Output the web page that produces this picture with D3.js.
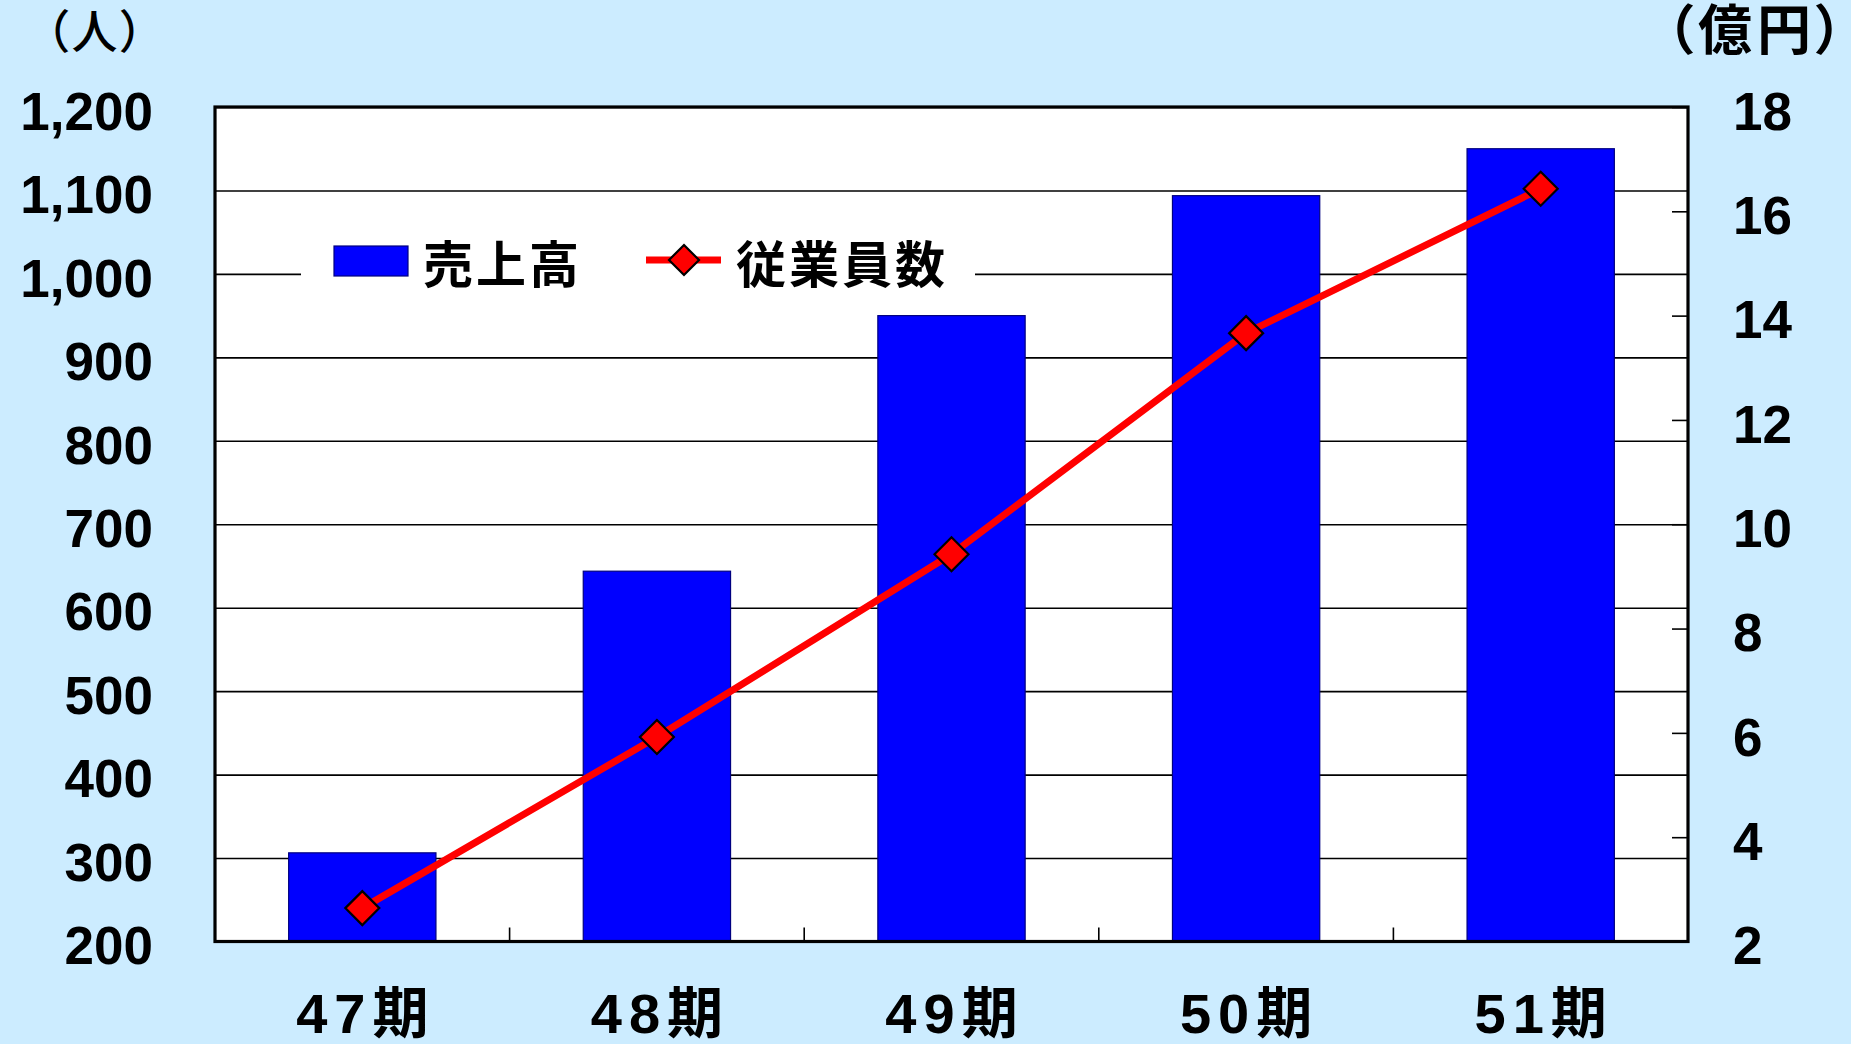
<!DOCTYPE html>
<html lang="ja">
<head>
    <meta charset="UTF-8">
    <title>売上高・従業員数</title>
    <script src="https://d3js.org/d3.v7.min.js"></script>
    <style>
        body { margin: 0; background: #CCECFF; }
        svg { display: block; }
        text { font-family: "Liberation Sans", "Noto Sans CJK JP", sans-serif; font-weight: bold; fill: #000; }
    </style>
</head>
<body>
    <div id="chart"></div>
    <script>
        // chart values
        var periods = ["47期", "48期", "49期", "50期", "51期"];
        var sales = [3.7, 9.1, 14.0, 16.3, 17.2];          // 売上高 (億円)
        var employees = [240, 445, 664, 929, 1102];        // 従業員数 (人)
        var leftTicks = [200, 300, 400, 500, 600, 700, 800, 900, 1000, 1100, 1200];
        var rightTicks = [2, 4, 6, 8, 10, 12, 14, 16, 18];
        var seriesNames = ["売上高", "従業員数"];
        var unitLabels = ["（人）", "（億円）"];

        var width = 1851, height = 1044;
        var plot = { left: 215, right: 1688, top: 107, bottom: 941.5 };

        var svg = d3.select("#chart").append("svg")
            .attr("width", width)
            .attr("height", height);

        var x = d3.scaleBand()
            .domain(periods)
            .range([plot.left, plot.right])
            .paddingInner(0.5)
            .paddingOuter(0.25);

        var yLeft = d3.scaleLinear().domain([200, 1200]).range([plot.bottom, plot.top]);
        var yRight = d3.scaleLinear().domain([2, 18]).range([plot.bottom, plot.top]);

        // plot background
        svg.append("rect")
            .attr("x", plot.left).attr("y", plot.top)
            .attr("width", plot.right - plot.left)
            .attr("height", plot.bottom - plot.top)
            .attr("fill", "#fff");

        // gridlines from left axis
        var grid = svg.append("g")
            .attr("transform", `translate(${plot.left},0)`)
            .call(d3.axisLeft(yLeft).tickValues(leftTicks).tickSize(-(plot.right - plot.left)).tickFormat(""));
        grid.select(".domain").remove();
        grid.selectAll("line").attr("stroke", "#000").attr("stroke-width", 1.6);

        // legend background (hides gridline)
        var legend = svg.append("g");
        legend.append("rect")
            .attr("x", 301).attr("y", 215)
            .attr("width", 674).attr("height", 95)
            .attr("fill", "#fff");

        // bars: sales on the right axis
        svg.append("g").selectAll("rect")
            .data(sales)
            .join("rect")
            .attr("x", (d, i) => x(periods[i]))
            .attr("y", d => yRight(d))
            .attr("width", x.bandwidth())
            .attr("height", d => plot.bottom - yRight(d))
            .attr("fill", "#0000FF")
            .attr("stroke", "#000080")
            .attr("stroke-width", 1.2);

        // category boundary ticks (inward)
        var bounds = periods.slice(1).map(p => x(p) - (x.step() - x.bandwidth()) / 2);
        svg.append("g").selectAll("line")
            .data(bounds)
            .join("line")
            .attr("x1", d => d).attr("x2", d => d)
            .attr("y1", plot.bottom).attr("y2", plot.bottom - 14)
            .attr("stroke", "#000").attr("stroke-width", 1.6);

        // employees line on the left axis
        var line = d3.line()
            .x((d, i) => x(periods[i]) + x.bandwidth() / 2)
            .y(d => yLeft(d));

        svg.append("path")
            .datum(employees)
            .attr("d", line)
            .attr("fill", "none")
            .attr("stroke", "#FF0000")
            .attr("stroke-width", 7)
            .attr("stroke-linejoin", "round");

        var diamond = r => `M0,${-r}L${r},0L0,${r}L${-r},0Z`;

        svg.append("g").selectAll("path")
            .data(employees)
            .join("path")
            .attr("transform", (d, i) => `translate(${x(periods[i]) + x.bandwidth() / 2},${yLeft(d)})`)
            .attr("d", diamond(17))
            .attr("fill", "#FF0000")
            .attr("stroke", "#000")
            .attr("stroke-width", 2.2);

        // plot frame
        svg.append("rect")
            .attr("x", plot.left).attr("y", plot.top)
            .attr("width", plot.right - plot.left)
            .attr("height", plot.bottom - plot.top)
            .attr("fill", "none")
            .attr("stroke", "#000")
            .attr("stroke-width", 3.2);

        // left axis labels
        var leftAxis = svg.append("g")
            .attr("transform", `translate(${plot.left},0)`)
            .call(d3.axisLeft(yLeft).tickValues(leftTicks).tickSize(0).tickPadding(62).tickFormat(d3.format(",")));
        leftAxis.select(".domain").remove();
        leftAxis.selectAll("text")
            .attr("dy", "0.42em")
            .style("font-size", "53px")
            .style("font-family", "'Liberation Sans', sans-serif")
            .style("font-weight", "bold")
            .attr("fill", "#000");

        // right axis: inward ticks + labels
        var rightAxis = svg.append("g")
            .attr("transform", `translate(${plot.right},0)`)
            .call(d3.axisRight(yRight).tickValues(rightTicks).tickSize(-16).tickPadding(45));
        rightAxis.select(".domain").remove();
        rightAxis.selectAll("line").attr("stroke", "#000").attr("stroke-width", 1.6);
        rightAxis.selectAll("text")
            .attr("dy", "0.42em")
            .style("font-size", "53px")
            .style("font-family", "'Liberation Sans', sans-serif")
            .style("font-weight", "bold")
            .attr("fill", "#000");

        // category labels
        var bottomAxis = svg.append("g")
            .attr("transform", `translate(0,${plot.bottom})`)
            .call(d3.axisBottom(x).tickSize(0).tickPadding(52));
        bottomAxis.select(".domain").remove();
        bottomAxis.selectAll("text")
            .style("font-size", "56px")
            .style("font-family", "'Liberation Sans', 'Noto Sans CJK JP', sans-serif")
            .style("font-weight", "bold")
            .style("letter-spacing", "7px")
            .attr("dx", "3.5px")
            .attr("fill", "#000");

        // unit labels
        svg.append("text")
            .attr("x", 96).attr("y", 48)
            .attr("text-anchor", "middle")
            .style("font-family", "'Noto Sans CJK JP', sans-serif")
            .style("font-weight", 500)
            .style("font-size", "46px")
            .style("font-feature-settings", "'palt'")
            .style("letter-spacing", "3px")
            .text(unitLabels[0]);

        svg.append("text")
            .attr("x", 1757).attr("y", 50)
            .attr("text-anchor", "middle")
            .style("font-family", "'Noto Sans CJK JP', sans-serif")
            .style("font-weight", "bold")
            .style("font-size", "54px")
            .style("font-feature-settings", "'palt'")
            .style("letter-spacing", "5px")
            .text(unitLabels[1]);

        // legend entries
        legend.append("rect")
            .attr("x", 334).attr("y", 246)
            .attr("width", 74).attr("height", 30)
            .attr("fill", "#0000FF")
            .attr("stroke", "#000080")
            .attr("stroke-width", 1.2);
        legend.append("text")
            .attr("x", 423).attr("y", 261)
            .attr("dominant-baseline", "central")
            .style("font-family", "'Noto Sans CJK JP', sans-serif")
            .style("font-size", "50px")
            .style("letter-spacing", "3px")
            .text(seriesNames[0]);

        legend.append("line")
            .attr("x1", 646).attr("x2", 721)
            .attr("y1", 260).attr("y2", 260)
            .attr("stroke", "#FF0000").attr("stroke-width", 7);
        legend.append("path")
            .attr("transform", "translate(684,260)")
            .attr("d", diamond(15))
            .attr("fill", "#FF0000")
            .attr("stroke", "#000")
            .attr("stroke-width", 2.2);
        legend.append("text")
            .attr("x", 736).attr("y", 261)
            .attr("dominant-baseline", "central")
            .style("font-family", "'Noto Sans CJK JP', sans-serif")
            .style("font-size", "50px")
            .style("letter-spacing", "3px")
            .text(seriesNames[1]);
    </script>
</body>
</html>
